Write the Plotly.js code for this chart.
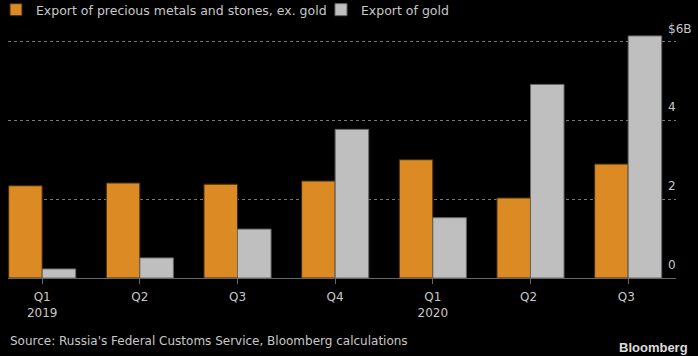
<!DOCTYPE html>
<html>
<head>
<meta charset="utf-8">
<script src="https://cdn.plot.ly/plotly-3.0.1.min.js"></script>
<style>
html,body{margin:0;padding:0;background:#000;}
#chart{width:698px;height:356px;}
</style>
</head>
<body>
<div id="chart"></div>
<script>
// Data (USD billions)
const categories = ["Q1<br>2019", "Q2", "Q3", "Q4", "Q1<br>2020", "Q2 ", "Q3 "];
const seriesNames = ["Export of precious metals and stones, ex. gold", "Export of gold"];
const preciousExGold = [2.34, 2.41, 2.38, 2.46, 3.00, 2.03, 2.89];
const gold = [0.23, 0.51, 1.24, 3.77, 1.53, 4.91, 6.14];
const yTickVals = [0, 2, 4, 6];
const yTickText = ["0", "2", "4", "$6B"];

const FONT = "DejaVu Sans, sans-serif";
const TXT = "#c8c8c8";

const traces = [
  {
    type: "bar",
    name: seriesNames[0],
    x: categories,
    y: preciousExGold,
    marker: {color: "#db8a24", line: {color: "#3d2a0f", width: 1}},
    hoverinfo: "x+y"
  },
  {
    type: "bar",
    name: seriesNames[1],
    x: categories,
    y: gold,
    marker: {color: "#bfbfbf", line: {color: "#666666", width: 1}},
    hoverinfo: "x+y"
  }
];

const layout = {
  width: 698,
  height: 356,
  paper_bgcolor: "#000",
  plot_bgcolor: "#000",
  font: {family: FONT, size: 12, color: TXT},
  margin: {l: 8, r: 22, t: 30, b: 78, autoexpand: false},
  barmode: "group",
  bargap: 0.313,
  bargroupgap: 0,
  showlegend: true,
  legend: {
    orientation: "h",
    xref: "paper", yref: "paper",
    x: -0.018, y: 1.0805,
    xanchor: "left", yanchor: "middle",
    entrywidth: 280,
    entrywidthmode: "pixels",
    font: {family: FONT, size: 12.5, color: TXT},
    bgcolor: "rgba(0,0,0,0)",
    traceorder: "normal"
  },
  xaxis: {
    type: "category",
    range: [-0.35, 6.49],
    showline: true,
    linecolor: "#666",
    linewidth: 1,
    ticks: "outside",
    ticklen: 5,
    tickcolor: "#666",
    tickwidth: 1,
    ticklabelstandoff: 3,
    showgrid: false,
    zeroline: false,
    tickfont: {family: FONT, size: 12, color: TXT},
    fixedrange: true
  },
  yaxis: {
    side: "right",
    range: [0, 6.29],
    tickvals: yTickVals,
    ticktext: yTickText,
    showgrid: true,
    gridcolor: "#777",
    griddash: "dot",
    gridwidth: 1,
    zeroline: false,
    showline: false,
    ticks: "",
    ticklabelposition: "outside",
    ticklabelstandoff: -9,
    ticklabelshift: -13,
    tickfont: {family: FONT, size: 12, color: TXT},
    fixedrange: true
  },
  annotations: [
    {
      text: "Source: Russia's Federal Customs Service, Bloomberg calculations",
      xref: "paper", yref: "paper",
      x: 0, y: 0, xanchor: "left", yanchor: "middle",
      yshift: -63,
      showarrow: false,
      font: {family: FONT, size: 12, color: TXT}
    },
    {
      text: "<b>Bloomberg</b>",
      xref: "paper", yref: "paper",
      x: 1, y: 0, xanchor: "right", yanchor: "middle",
      xshift: 14, yshift: -69,
      showarrow: false,
      font: {family: "Liberation Sans, Arial, sans-serif", size: 13, color: "#dcdcdc"}
    }
  ]
};

Plotly.newPlot("chart", traces, layout, {displayModeBar: false, staticPlot: true});
</script>
</body>
</html>
